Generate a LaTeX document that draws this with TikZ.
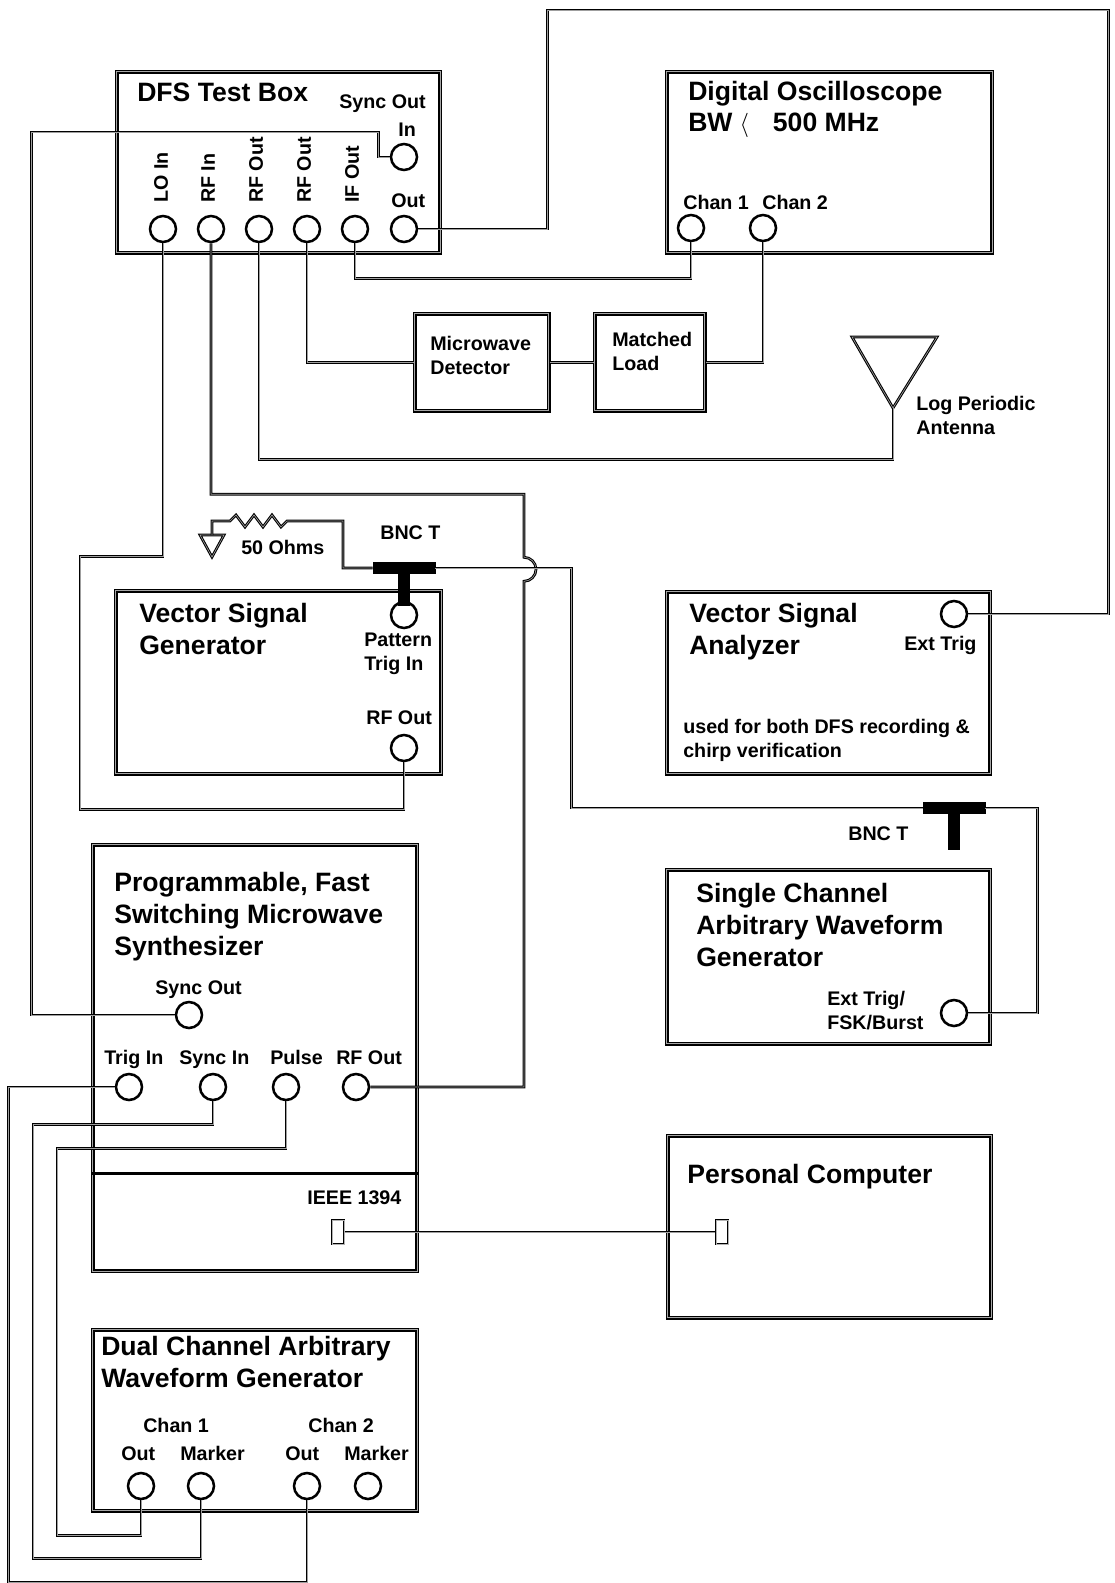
\documentclass[tikz,border=0pt]{standalone}
\usepackage{fontspec}
\setmainfont{Liberation Sans}
\usepackage{tikz}
\usetikzlibrary{positioning}

\begin{document}
\begin{tikzpicture}[x=0.025cm, y=-0.025cm]
    % Define styles
    \tikzstyle{instrument} = [rectangle, draw=black, line width=1.1pt, double=gray!70, double distance=0.5pt, inner sep=0pt, anchor=north west]
    \tikzstyle{port} = [circle, draw=black, line width=1.8pt, minimum size=0.65cm, inner sep=0pt]
    \tikzstyle{plug} = [rectangle, draw=black, line width=0.8pt, double=gray!60, double distance=0.4pt, minimum width=0.3cm, minimum height=0.6cm, inner sep=0pt]
    \tikzstyle{tee} = [rectangle, draw=black, fill=black, minimum width=1.55cm, minimum height=0.27cm, inner sep=0pt]
    \tikzstyle{teestem} = [draw=black, line width=8pt]
    \tikzstyle{heading} = [font=\fontsize{18.9}{22.7}\selectfont\bfseries, inner sep=0pt, align=left, anchor=base west]
    \tikzstyle{plabel} = [font=\fontsize{14}{17}\selectfont\bfseries, inner sep=0pt, align=left, anchor=base west]
    \tikzstyle{cable} = [draw=black, line width=0.75pt, double=gray!75, double distance=0.45pt]

    \useasboundingbox (0,0) rectangle (1114,1583);

    % Instruments
    \node[instrument, minimum width=8.075cm, minimum height=4.525cm] (dfs_box) at (116,71) {};
    \node[instrument, minimum width=8.125cm, minimum height=4.525cm] (scope_box) at (666,71) {};
    \node[instrument, minimum width=3.35cm, minimum height=2.425cm] (detector) at (414,313) {};
    \node[instrument, minimum width=2.75cm, minimum height=2.425cm] (matched_load) at (594,313) {};
    \node[instrument, minimum width=8.125cm, minimum height=4.575cm] (vsg_box) at (115,590) {};
    \node[instrument, minimum width=8.075cm, minimum height=4.55cm] (vsa_box) at (666,591) {};
    \node[instrument, minimum width=8.075cm, minimum height=4.35cm] (awg1_box) at (666,869) {};
    \node[instrument, minimum width=8.1cm, minimum height=10.65cm] (synth_box) at (92,844) {};
    \node[instrument, minimum width=8.075cm, minimum height=4.55cm] (pc_box) at (667,1135) {};
    \node[instrument, minimum width=8.1cm, minimum height=4.525cm] (awg2_box) at (92,1329) {};
    \draw[line width=1.8pt] ([yshift=2.45cm]synth_box.south west) -- ([yshift=2.45cm]synth_box.south east);

    % Titles
    \node[heading] (dfs_title) at (137,102) {DFS Test Box};
    \node[heading] (scope_title) at (688,132) {Digital Oscilloscope\\BW\hspace{5pt}{\mdseries$\langle$}\hspace{17pt}500 MHz};
    \node[heading] (vsg_title) at (139,654) {Vector Signal\\Generator};
    \node[heading] (vsa_title) at (689,654) {Vector Signal\\Analyzer};
    \node[heading] (synth_title) at (114,955) {Programmable, Fast\\Switching Microwave\\Synthesizer};
    \node[heading] (awg1_title) at (696,966) {Single Channel\\Arbitrary Waveform\\Generator};
    \node[heading] (pc_title) at (687,1183) {Personal Computer};
    \node[heading] (awg2_title) at (101,1387) {Dual Channel Arbitrary\\Waveform Generator};
    \node[plabel] (detector_title) at (430,374) {Microwave\\Detector};
    \node[plabel] (load_title) at (612,370) {Matched\\Load};
    \node[plabel] (vsa_note) at (683,757) {used for both DFS recording \&\\chirp verification};

    % Ports
    \node[port] (lo_in) at (163,229) {};
    \node[port] (rf_in) at (211,229) {};
    \node[port] (rf_out_a) at (259,229) {};
    \node[port] (rf_out_b) at (307,229) {};
    \node[port] (if_out) at (355,229) {};
    \node[port] (dfs_out) at (404,229) {};
    \node[port] (dfs_in) at (404,157) {};
    \node[port] (chan_1) at (691,228) {};
    \node[port] (chan_2) at (763,228) {};
    \node[port] (pattern_trig) at (404,615) {};
    \node[port] (vsg_rf_out) at (404,748) {};
    \node[port] (ext_trig) at (954,614) {};
    \node[port] (fsk_in) at (954,1013) {};
    \node[port] (synth_sync_out) at (189,1015) {};
    \node[port] (trig_in) at (129,1087) {};
    \node[port] (synth_sync_in) at (213,1087) {};
    \node[port] (pulse) at (286,1087) {};
    \node[port] (synth_rf_out) at (356,1087) {};
    \node[port] (ch1_out) at (141,1486) {};
    \node[port] (ch1_marker) at (201,1486) {};
    \node[port] (ch2_out) at (307,1486) {};
    \node[port] (ch2_marker) at (368,1486) {};
    \node[plug] (ieee_port) at (338,1232) {};
    \node[plug] (pc_port) at (722,1232) {};
    \node[tee] (bnc_t1) at (404,568) {};
    \node[tee] (bnc_t2) at (954,808) {};
    \coordinate (ground) at (212,535);
    \coordinate (antenna) at (893,408);

    % Port labels
    \node[plabel] (dfs_sync_lbl) at (339,109) {Sync Out};
    \node[plabel] (dfs_in_lbl) at (398,137) {In};
    \node[plabel] (dfs_out_lbl) at (391,207) {Out};
    \node[plabel, rotate=90, anchor=west] (lo_in_lbl) at (161,203) {LO In};
    \node[plabel, rotate=90, anchor=west] (rf_in_lbl) at (208,203) {RF In};
    \node[plabel, rotate=90, anchor=west] (rf_out_a_lbl) at (256,203) {RF Out};
    \node[plabel, rotate=90, anchor=west] (rf_out_b_lbl) at (304,203) {RF Out};
    \node[plabel, rotate=90, anchor=west] (if_out_lbl) at (352,203) {IF Out};
    \node[plabel] (chan_1_lbl) at (683,209) {Chan 1};
    \node[plabel] (chan_2_lbl) at (762,209) {Chan 2};
    \node[plabel] (pattern_lbl) at (364,670) {Pattern\\Trig In};
    \node[plabel] (vsg_rf_lbl) at (366,724) {RF Out};
    \node[plabel] (ext_trig_lbl) at (904,650) {Ext Trig};
    \node[plabel] (fsk_lbl) at (827,1029) {Ext Trig/\\FSK/Burst};
    \node[plabel] (synth_sync_out_lbl) at (155,994) {Sync Out};
    \node[plabel] (trig_in_lbl) at (104,1064) {Trig In};
    \node[plabel] (synth_sync_in_lbl) at (179,1064) {Sync In};
    \node[plabel] (pulse_lbl) at (270,1064) {Pulse};
    \node[plabel] (synth_rf_lbl) at (336,1064) {RF Out};
    \node[plabel] (ieee_lbl) at (307,1204) {IEEE 1394};
    \node[plabel] (ch1_lbl) at (143,1432) {Chan 1};
    \node[plabel] (ch2_lbl) at (308,1432) {Chan 2};
    \node[plabel] (ch1_out_lbl) at (121,1460) {Out};
    \node[plabel] (ch1_marker_lbl) at (180,1460) {Marker};
    \node[plabel] (ch2_out_lbl) at (285,1460) {Out};
    \node[plabel] (ch2_marker_lbl) at (344,1460) {Marker};
    \node[plabel] (ohms_lbl) at (241,554) {50 Ohms};
    \node[plabel] (bnc_t1_lbl) at (380,539) {BNC T};
    \node[plabel] (bnc_t2_lbl) at (848,840) {BNC T};
    \node[plabel] (antenna_lbl) at (916,434) {Log Periodic\\Antenna};

    % Symbols
    \draw[cable] (ground) -- ++(-12,0) -- ++(12,22) -- ++(12,-22) -- cycle;
    \draw[cable] (antenna) -- ++(-41,-71) -- ++(85,0) -- cycle;
    \draw[teestem] (bnc_t1.south) -- ([yshift=-4pt]pattern_trig.north);
    \draw[teestem] (bnc_t2.south) -- ++(0,36);

    % Connections
    \draw[cable] (dfs_out.east) -- ++(129,0) |- ++(561,-219) |- (ext_trig.east);
    \draw[cable] (dfs_in.west) -- ++(-11,0) |- ++(-347,-25) |- (synth_sync_out.west);
    \draw[cable] (if_out.south) -- ++(0,35) -| (chan_1.south);
    \draw[cable] (chan_2.south) |- (matched_load.east);
    \draw[cable] (rf_out_b.south) |- (detector.west);
    \draw[cable] (detector.east) -- (matched_load.west);
    \draw[cable] (rf_out_a.south) -- ++(0,216) -| (antenna);
    \draw[cable] (rf_in.south) -- ++(0,251) -- ++(313,0) -- ++(0,63) arc[start angle=90, end angle=-90, radius=0.3cm] |- (synth_rf_out.east);
    \draw[cable] (lo_in.south) -- ++(0,313) -| ++(-83,253) -| (vsg_rf_out.south);
    \draw[cable] (ground) -- ++(0,-14) -- ++(18,0) -- ++(6,-6) -- ++(9,12) -- ++(9,-12) -- ++(9,12) -- ++(9,-12) -- ++(9,12) -- ++(6,-6) -- ++(56,0) |- (bnc_t1.west);
    \draw[cable] (bnc_t1.east) -- ++(136,0) |- (bnc_t2.west);
    \draw[cable] (bnc_t2.east) -- ++(52,0) |- (fsk_in.east);
    \draw[cable] (trig_in.west) -| ++(-106,495) -| (ch2_out.south);
    \draw[cable] (synth_sync_in.south) -- ++(0,23) -| ++(-180,434) -| (ch1_marker.south);
    \draw[cable] (pulse.south) -- ++(0,47) -| ++(-229,387) -| (ch1_out.south);
    \draw[cable] (ieee_port.east) -- (pc_port.west);
\end{tikzpicture}
\end{document}
